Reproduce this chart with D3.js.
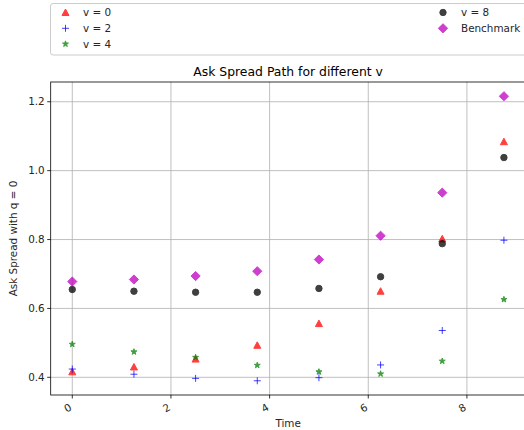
<!DOCTYPE html>
<html>
<head>
<meta charset="utf-8">
<script src="https://cdn.jsdelivr.net/npm/d3@7"></script>
<style>
  html, body { margin: 0; padding: 0; background: #fff; }
  svg { display: block; font-family: "DejaVu Sans", sans-serif; }
</style>
</head>
<body>
<svg id="chart" width="524" height="430"></svg>
<script>
// Time steps along the path
const times = [0, 1.25, 2.5, 3.75, 5, 6.25, 7.5, 8.75];

// Ask spread (q = 0) for each inventory-penalty setting v
const v0 = [0.416, 0.430, 0.453, 0.493, 0.556, 0.650, 0.802, 1.084];
const v2 = [0.424, 0.409, 0.397, 0.390, 0.399, 0.436, 0.536, 0.798];
const v4 = [0.496, 0.474, 0.458, 0.435, 0.416, 0.410, 0.447, 0.626];
const v8 = [0.655, 0.650, 0.647, 0.647, 0.658, 0.692, 0.788, 1.038];
const benchmark = [0.678, 0.684, 0.694, 0.708, 0.742, 0.811, 0.936, 1.216];

const xTicks = [0, 2, 4, 6, 8];
const yTicks = [0.4, 0.6, 0.8, 1.0, 1.2];

const series = [
  { name: "v = 0", values: v0, color: "#ff0000", shape: "triangle" },
  { name: "v = 2", values: v2, color: "#0000ff", shape: "plus" },
  { name: "v = 4", values: v4, color: "#008000", shape: "star" },
  { name: "v = 8", values: v8, color: "#000000", shape: "circle" },
  { name: "Benchmark", values: benchmark, color: "#bf00bf", shape: "diamond" }
];

const FS = 10.4, TITLE_FS = 12.4;

const svg = d3.select("#chart");
const plot = { left: 50.7, top: 82, right: 525.5, bottom: 395 };

// matplotlib-style 5% margins around the data
const xMin = d3.min(times), xMax = d3.max(times);
const allY = [].concat(v0, v2, v4, v8, benchmark);
const yMin = d3.min(allY), yMax = d3.max(allY);
const xPad = (xMax - xMin) * 0.05, yPad = (yMax - yMin) * 0.05;

const x = d3.scaleLinear().domain([xMin - xPad, xMax + xPad]).range([plot.left, plot.right]);
const y = d3.scaleLinear().domain([yMin - yPad, yMax + yPad]).range([plot.bottom, plot.top]);

// Grid
const grid = svg.append("g").attr("stroke", "#b0b0b0").attr("stroke-width", 0.8);
xTicks.forEach(t => grid.append("line")
  .attr("x1", x(t)).attr("x2", x(t)).attr("y1", plot.top).attr("y2", plot.bottom));
yTicks.forEach(t => grid.append("line")
  .attr("x1", plot.left).attr("x2", plot.right).attr("y1", y(t)).attr("y2", y(t)));

// Marker shapes
function markerPath(shape) {
  switch (shape) {
    case "triangle": return "M0,-3.5L3.5,3L-3.5,3Z";
    case "plus": return "M-3.5,0H3.5M0,-3.5V3.5";
    case "star": return d3.symbol(d3.symbolStar, 11)();
    case "circle": return d3.symbol(d3.symbolCircle, Math.PI * 3.2 * 3.2)();
    case "diamond": return "M0,-4.6L4.6,0L0,4.6L-4.6,0Z";
  }
}

function drawMarker(g, s, cx, cy) {
  const p = g.append("path")
    .attr("d", markerPath(s.shape))
    .attr("transform", `translate(${cx},${cy})`)
    .attr("opacity", 0.75);
  if (s.shape === "plus") {
    p.attr("fill", "none").attr("stroke", s.color).attr("stroke-width", 1);
  } else {
    p.attr("fill", s.color).attr("stroke", s.color).attr("stroke-width", 1)
      .attr("stroke-linejoin", "miter");
  }
}

const marks = svg.append("g");
series.forEach(s => {
  s.values.forEach((v, i) => drawMarker(marks, s, x(times[i]), y(v)));
});

// Frame
svg.append("rect")
  .attr("x", plot.left).attr("y", plot.top)
  .attr("width", plot.right - plot.left).attr("height", plot.bottom - plot.top)
  .attr("fill", "none").attr("stroke", "#000").attr("stroke-width", 0.8);

// X axis ticks and rotated labels
const xa = svg.append("g");
xTicks.forEach(t => {
  xa.append("line").attr("x1", x(t)).attr("x2", x(t))
    .attr("y1", plot.bottom).attr("y2", plot.bottom + 3.5)
    .attr("stroke", "#000").attr("stroke-width", 0.8);
  xa.append("text")
    .attr("transform", `translate(${x(t) - 4.5},${plot.bottom + 13}) rotate(-30)`)
    .attr("text-anchor", "middle").attr("dy", "0.35em")
    .attr("font-size", FS).attr("fill", "#262626")
    .text(d3.format("d")(t));
});

// Y axis ticks and labels
const ya = svg.append("g");
yTicks.forEach(t => {
  ya.append("line").attr("x1", plot.left - 3.5).attr("x2", plot.left)
    .attr("y1", y(t)).attr("y2", y(t))
    .attr("stroke", "#000").attr("stroke-width", 0.8);
  ya.append("text")
    .attr("x", plot.left - 6).attr("y", y(t)).attr("dy", "0.35em")
    .attr("text-anchor", "end").attr("font-size", FS).attr("fill", "#262626")
    .text(d3.format(".1f")(t));
});

// Axis titles
svg.append("text")
  .attr("x", (plot.left + plot.right) / 2).attr("y", 427)
  .attr("text-anchor", "middle").attr("font-size", FS).attr("fill", "#262626")
  .text("Time");
svg.append("text")
  .attr("transform", `translate(17,${(plot.top + plot.bottom) / 2}) rotate(-90)`)
  .attr("text-anchor", "middle").attr("font-size", FS).attr("fill", "#262626")
  .text("Ask Spread with q = 0");
svg.append("text")
  .attr("x", (plot.left + plot.right) / 2).attr("y", 76)
  .attr("text-anchor", "middle").attr("font-size", TITLE_FS).attr("fill", "#000")
  .text("Ask Spread Path for different v");

// Legend
const legend = svg.append("g");
legend.append("rect")
  .attr("x", 50.5).attr("y", 3.5).attr("width", 490).attr("height", 51.5)
  .attr("rx", 2.5).attr("fill", "#fff").attr("fill-opacity", 0.8)
  .attr("stroke", "#cccccc").attr("stroke-width", 1);
const cols = [{ mx: 65.5, tx: 83 }, { mx: 443, tx: 461 }];
const rowY = [12.5, 28.3, 44];
series.forEach((s, i) => {
  const col = cols[i < 3 ? 0 : 1];
  const ry = rowY[i < 3 ? i : i - 3];
  drawMarker(legend, s, col.mx, ry);
  legend.append("text")
    .attr("x", col.tx).attr("y", ry).attr("dy", "0.35em")
    .attr("font-size", FS).attr("fill", "#262626")
    .text(s.name);
});
</script>
</body>
</html>
